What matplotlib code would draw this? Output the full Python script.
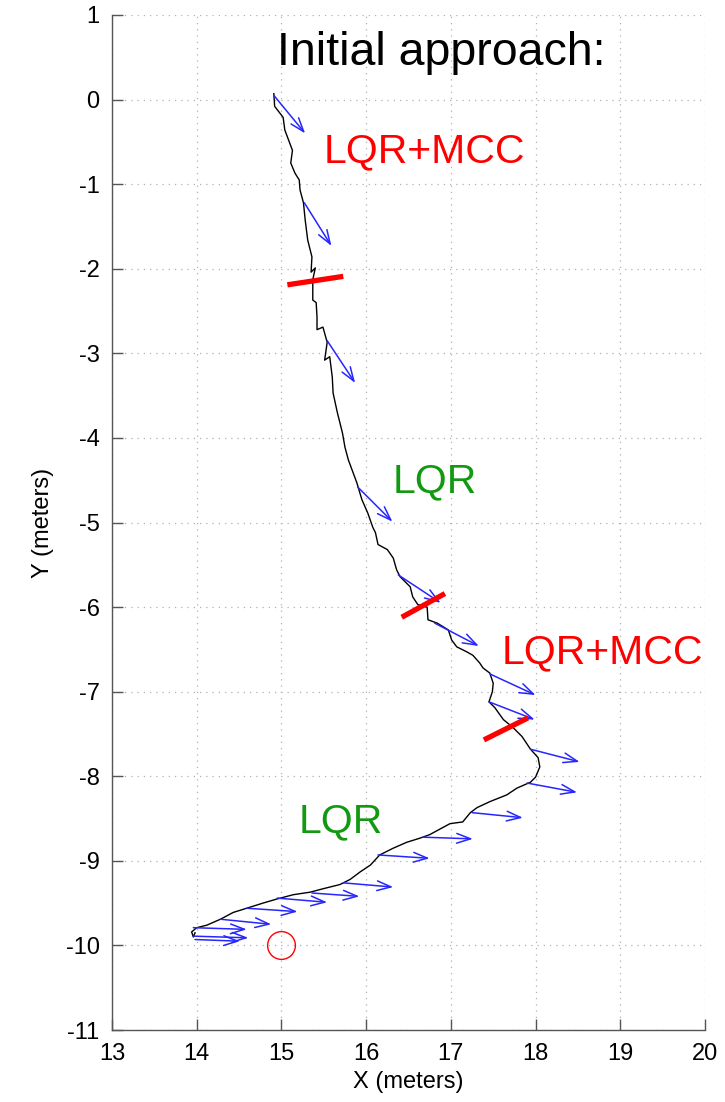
import matplotlib
matplotlib.use("Agg")
import matplotlib.pyplot as plt
from matplotlib.patches import FancyArrowPatch

plt.rcParams['font.family'] = ['Liberation Sans', 'DejaVu Sans']
plt.rcParams['axes.unicode_minus'] = False

# Robot trajectory (meters)
path_x = [14.91, 14.92, 15.02, 15.04, 15.13, 15.11, 15.16, 15.21, 15.22, 15.26,
          15.28, 15.31, 15.36, 15.35, 15.40, 15.37, 15.37, 15.41, 15.42, 15.42,
          15.49, 15.54, 15.51, 15.57, 15.60, 15.61, 15.66, 15.72, 15.75, 15.79,
          15.89, 15.95, 16.02, 16.08, 16.11, 16.14, 16.25, 16.32, 16.36, 16.40,
          16.52, 16.55, 16.61, 16.72, 16.73, 16.84, 16.97, 17.01, 17.07, 17.19,
          17.26, 17.34, 17.38, 17.46, 17.50, 17.49, 17.45, 17.52, 17.62, 17.73,
          17.84, 17.94, 18.03, 18.05, 18.00, 17.94, 17.78, 17.66, 17.46, 17.31,
          17.23, 17.14, 16.99, 16.75, 16.64, 16.48, 16.32, 16.16, 16.05, 15.93,
          15.81, 15.69, 15.49, 15.34, 15.14, 14.95, 14.78, 14.59, 14.43, 14.28,
          14.12, 14.00, 13.94, 13.96, 13.98]
path_y = [0.07, -0.08, -0.21, -0.36, -0.60, -0.75, -0.87, -0.95, -1.07, -1.22,
          -1.42, -1.66, -1.86, -2.04, -1.99, -2.13, -2.37, -2.40, -2.57, -2.72,
          -2.69, -2.87, -3.08, -3.04, -3.28, -3.47, -3.70, -3.94, -4.11, -4.26,
          -4.53, -4.73, -4.89, -5.06, -5.12, -5.26, -5.32, -5.42, -5.56, -5.64,
          -5.76, -5.88, -5.97, -6.00, -6.15, -6.19, -6.27, -6.39, -6.47, -6.53,
          -6.57, -6.66, -6.72, -6.78, -6.90, -7.00, -7.12, -7.19, -7.33, -7.42,
          -7.53, -7.68, -7.78, -7.89, -8.01, -8.07, -8.14, -8.22, -8.30, -8.37,
          -8.43, -8.54, -8.56, -8.69, -8.73, -8.78, -8.85, -8.93, -9.05, -9.13,
          -9.22, -9.28, -9.33, -9.37, -9.40, -9.45, -9.50, -9.56, -9.61, -9.69,
          -9.76, -9.79, -9.84, -9.90, -9.85]

# Heading vectors along the path
arrow_x = [14.91, 15.27, 15.54, 15.90, 16.38, 16.81, 17.46, 17.45, 17.94, 17.90,
           17.25, 16.67, 16.14, 15.73, 15.36, 14.95, 14.59, 14.28, 13.96, 13.96, 13.98]
arrow_y = [0.05, -1.22, -2.85, -4.58, -5.62, -6.19, -6.79, -7.12, -7.68, -8.08,
           -8.43, -8.72, -8.93, -9.26, -9.38, -9.44, -9.56, -9.69, -9.79, -9.89, -9.93]
arrow_u = [0.37, 0.32, 0.33, 0.41, 0.50, 0.52, 0.54, 0.54, 0.58, 0.59,
           0.60, 0.59, 0.61, 0.59, 0.56, 0.59, 0.60, 0.60, 0.63, 0.65, 0.53]
arrow_v = [-0.45, -0.51, -0.50, -0.41, -0.33, -0.27, -0.25, -0.21, -0.15, -0.11,
           -0.06, -0.02, -0.04, -0.05, -0.04, -0.05, -0.04, -0.06, -0.02, -0.02, -0.02]

# Controller switch markers
switch_x0 = [15.07, 16.42, 17.39]
switch_y0 = [-2.19, -6.12, -7.57]
switch_x1 = [15.73, 16.93, 17.91]
switch_y1 = [-2.09, -5.84, -7.31]

# Goal position
goal_x, goal_y = 15.0, -10.0

# Region labels
label_text = ["LQR+MCC", "LQR", "LQR+MCC", "LQR"]
label_x = [15.50, 16.31, 17.60, 15.20]
label_y = [-0.74, -4.64, -6.67, -8.66]
label_color = ["red", "#119911", "red", "#119911"]

title_text = "Initial approach:"

fig = plt.figure(figsize=(7.25, 11.02), dpi=100)
ax = fig.add_axes([0.1545, 0.0653, 0.8179, 0.9211])

ax.set_xlim(13, 20)
ax.set_ylim(-11, 1)
ax.set_xticks(range(13, 21))
ax.set_yticks(range(-11, 2))

ax.grid(True, linestyle=(0, (1, 4)), color='#b0b0b0', linewidth=0.9)
ax.set_axisbelow(True)

for side in ('top', 'right'):
    ax.spines[side].set_visible(False)
for side in ('left', 'bottom'):
    ax.spines[side].set_color('#555555')
    ax.spines[side].set_linewidth(1.0)

ax.tick_params(direction='in', length=8, width=1.0, color='#555555',
               labelsize=17, pad=9)

ax.set_xlabel("X (meters)", fontsize=17, labelpad=5)
ax.set_ylabel("Y (meters)", fontsize=17, labelpad=8)

ax.plot(path_x, path_y, color='black', linewidth=1.0, zorder=3)

for x, y, u, v in zip(arrow_x, arrow_y, arrow_u, arrow_v):
    arr = FancyArrowPatch((x, y), (x + u, y + v),
                          arrowstyle='->,head_length=10,head_width=3.5',
                          mutation_scale=1, shrinkA=0, shrinkB=0,
                          color=(0.15, 0.15, 1.0), linewidth=1.1, zorder=4)
    ax.add_patch(arr)

for x0, y0, x1, y1 in zip(switch_x0, switch_y0, switch_x1, switch_y1):
    ax.plot([x0, x1], [y0, y1], color='red', linewidth=3.8,
            solid_capstyle='butt', zorder=5)

ax.plot([goal_x], [goal_y], marker='o', markersize=20, markerfacecolor='none',
        markeredgecolor='red', markeredgewidth=1.0, zorder=5)

for t, x, y, c in zip(label_text, label_x, label_y, label_color):
    ax.text(x, y, t, color=c, fontsize=29.5, ha='left', va='baseline', zorder=6)

ax.text(14.95, 0.41, title_text, color='black', fontsize=33.5,
        ha='left', va='baseline', zorder=6)

fig.savefig("out.png", dpi=100)
